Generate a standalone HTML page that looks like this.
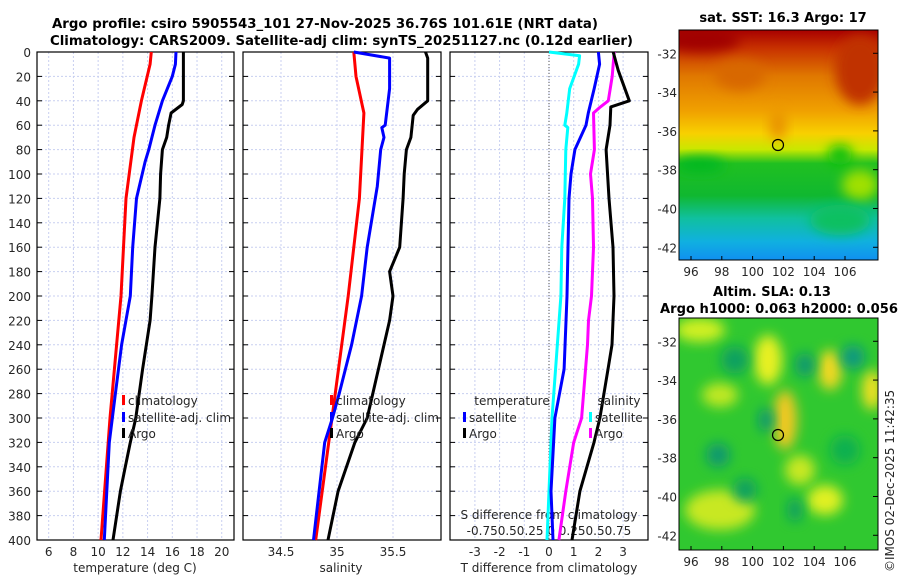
<!DOCTYPE html>
<html><head><meta charset="utf-8">
<style>
body{margin:0;background:#fff;}
svg{display:block;font-family:"DejaVu Sans","Liberation Sans",sans-serif;}
.t{font-size:12px;fill:#262626;}
.b{font-weight:bold;font-size:13px;fill:#000;}
</style></head>
<body>
<svg id="fig" width="900" height="580" viewBox="0 0 900 580">
<defs>
<linearGradient id="sstg" x1="0" y1="0" x2="0" y2="1">
<stop offset="0" stop-color="#a80000"/><stop offset="0.08" stop-color="#c83200"/>
<stop offset="0.2" stop-color="#e07800"/><stop offset="0.35" stop-color="#f0a000"/>
<stop offset="0.45" stop-color="#f8d000"/><stop offset="0.52" stop-color="#c8e800"/>
<stop offset="0.58" stop-color="#20c020"/><stop offset="0.72" stop-color="#10b830"/>
<stop offset="0.82" stop-color="#10c0a0"/><stop offset="0.92" stop-color="#10b0e0"/>
<stop offset="1" stop-color="#1090f0"/></linearGradient>
<filter id="bl" x="-50%" y="-50%" width="200%" height="200%"><feGaussianBlur stdDeviation="6"/></filter>
<clipPath id="c1"><rect x="679" y="30" width="199" height="230"/></clipPath>
<clipPath id="c2"><rect x="679" y="318" width="199" height="232"/></clipPath>
</defs>
<g id="titles">
<text class="b" x="52" y="28" textLength="546" lengthAdjust="spacingAndGlyphs">Argo profile: csiro 5905543_101 27-Nov-2025 36.76S 101.61E (NRT data)</text>
<text class="b" x="50" y="45" textLength="583" lengthAdjust="spacingAndGlyphs">Climatology: CARS2009. Satellite-adj clim: synTS_20251127.nc (0.12d earlier)</text>
</g>
<g id="panels"></g>
<g id="maps">
<text class="b" x="783" y="22" text-anchor="middle">sat. SST: 16.3 Argo: 17</text>
<g clip-path="url(#c1)">
<rect x="679" y="30" width="199" height="230" fill="url(#sstg)"/>
<ellipse cx="700" cy="40" rx="40" ry="12" fill="#a00000" filter="url(#bl)"/>
<ellipse cx="860" cy="70" rx="25" ry="35" fill="#c03000" filter="url(#bl)"/>
<ellipse cx="740" cy="75" rx="25" ry="15" fill="#d86800" filter="url(#bl)"/>
<ellipse cx="778" cy="125" rx="8" ry="15" fill="#e89000" filter="url(#bl)"/>
<ellipse cx="700" cy="165" rx="25" ry="8" fill="#00b820" filter="url(#bl)"/>
<ellipse cx="840" cy="155" rx="12" ry="10" fill="#10c010" filter="url(#bl)"/>
<ellipse cx="860" cy="185" rx="18" ry="15" fill="#a0e000" filter="url(#bl)"/>
<ellipse cx="840" cy="220" rx="30" ry="15" fill="#10c060" filter="url(#bl)"/>
</g>
<rect x="679" y="30" width="199" height="230" fill="none" stroke="#000" stroke-width="1"/>
<circle cx="778" cy="145" r="5.5" fill="none" stroke="#000" stroke-width="1.2"/>
<text class="b" x="772" y="296" text-anchor="middle">Altim. SLA: 0.13</text>
<text class="b" x="660" y="313" textLength="238" lengthAdjust="spacingAndGlyphs">Argo h1000: 0.063 h2000: 0.056</text>
<g clip-path="url(#c2)">
<rect x="679" y="318" width="199" height="232" fill="#30c830"/>
<ellipse cx="700" cy="330" rx="25" ry="12" fill="#d0f020" filter="url(#bl)"/>
<ellipse cx="768" cy="360" rx="14" ry="25" fill="#e8f020" filter="url(#bl)"/>
<ellipse cx="830" cy="370" rx="12" ry="20" fill="#f0d820" filter="url(#bl)"/>
<ellipse cx="872" cy="390" rx="10" ry="20" fill="#f0e020" filter="url(#bl)"/>
<ellipse cx="785" cy="420" rx="12" ry="30" fill="#f0c820" filter="url(#bl)"/>
<ellipse cx="720" cy="395" rx="18" ry="12" fill="#c0e820" filter="url(#bl)"/>
<ellipse cx="825" cy="500" rx="18" ry="15" fill="#e0f020" filter="url(#bl)"/>
<ellipse cx="720" cy="510" rx="35" ry="20" fill="#c8e820" filter="url(#bl)"/>
<ellipse cx="800" cy="470" rx="15" ry="15" fill="#c8e820" filter="url(#bl)"/>
<ellipse cx="735" cy="360" rx="14" ry="14" fill="#10a060" filter="url(#bl)"/>
<ellipse cx="805" cy="365" rx="10" ry="12" fill="#109870" filter="url(#bl)"/>
<ellipse cx="853" cy="357" rx="12" ry="12" fill="#109880" filter="url(#bl)"/>
<ellipse cx="766" cy="420" rx="8" ry="12" fill="#109870" filter="url(#bl)"/>
<ellipse cx="718" cy="455" rx="12" ry="12" fill="#109870" filter="url(#bl)"/>
<ellipse cx="745" cy="490" rx="12" ry="12" fill="#10a060" filter="url(#bl)"/>
<ellipse cx="795" cy="510" rx="8" ry="12" fill="#10a060" filter="url(#bl)"/>
<ellipse cx="845" cy="450" rx="15" ry="15" fill="#10b050" filter="url(#bl)"/>
</g>
<rect x="679" y="318" width="199" height="232" fill="none" stroke="#000" stroke-width="1"/>
<circle cx="778" cy="435" r="5.5" fill="none" stroke="#000" stroke-width="1.2"/>
<text class="t" x="0" y="0" transform="translate(894,572) rotate(-90)">©IMOS 02-Dec-2025 11:42:35</text>
</g>
</svg>
<script>
// ---- data ----
const depthTicks=[0,20,40,60,80,100,120,140,160,180,200,220,240,260,280,300,320,340,360,380,400];
const tempTicks=[6,8,10,12,14,16,18,20];
const salTicks=[34.5,35,35.5];
const salTickLabels=["34.5","35","35.5"];
const diffTicks=[-3,-2,-1,0,1,2,3];
const sdiffLabels="-0.750.50.25 0 0.250.50.75";
const latTicks=[-32,-34,-36,-38,-40,-42];
const lonTicks=[96,98,100,102,104,106];

const tClimDepth=[0,10,40,70,120,200,300,400];
const tClim=[14.3,14.2,13.5,12.9,12.25,11.85,10.96,10.23];
const tSatDepth=[0,10,20,40,60,70,80,90,120,160,200,240,280,320,400];
const tSat=[16.3,16.25,16.0,15.2,14.6,14.35,14.1,13.8,13.1,12.8,12.6,11.9,11.4,10.9,10.5];
const tArgoDepth=[0,40,43,50,60,70,80,100,120,160,200,220,260,300,320,340,360,400];
const tArgo=[16.9,16.9,16.8,15.9,15.7,15.55,15.2,15.05,15.0,14.6,14.35,14.2,13.6,13.05,12.6,12.2,11.8,11.2];

const sClimDepth=[0,20,50,120,200,300,400];
const sClim=[35.15,35.17,35.24,35.2,35.1,34.955,34.81];
const sSatDepth=[0,5,30,60,62,70,80,110,160,200,240,280,300,320,400];
const sSat=[35.15,35.47,35.47,35.43,35.4,35.42,35.39,35.36,35.27,35.22,35.13,35.02,34.96,34.89,34.79];
const sArgoDepth=[0,5,40,47,52,70,80,100,120,160,180,200,220,260,300,320,360,400];
const sArgo=[35.79,35.81,35.81,35.72,35.68,35.66,35.62,35.6,35.59,35.56,35.47,35.5,35.47,35.37,35.27,35.16,35.01,34.92];

const dTSatDepth=[0,10,30,50,60,80,100,120,200,260,300,360,400];
const dTSat=[2.0,2.05,1.83,1.59,1.5,1.05,0.89,0.81,0.73,0.61,0.24,0.08,0.16];
const dTArgoDepth=[0,15,40,45,60,80,120,160,200,240,260,300,320,360,400];
const dTArgo=[2.6,2.8,3.25,2.5,2.47,2.31,2.43,2.59,2.63,2.55,2.39,2.06,1.82,1.25,0.93];
const dSSatDepth=[0,3,10,30,50,60,62,80,120,160,200,300,400];
const dSSat=[0,0.31,0.3,0.21,0.18,0.16,0.19,0.17,0.16,0.13,0.12,0.03,-0.02];
const dSArgoDepth=[0,20,40,45,50,80,100,120,160,200,220,240,300,320,360,400];
const dSArgo=[0.66,0.64,0.6,0.52,0.45,0.46,0.42,0.44,0.45,0.43,0.4,0.39,0.33,0.25,0.17,0.1];

// ---- drawing ----
const NS='http://www.w3.org/2000/svg';
const root=document.getElementById('panels');
function mk(tag,attrs,parent){const e=document.createElementNS(NS,tag);for(const k in attrs)e.setAttribute(k,attrs[k]);(parent||root).appendChild(e);return e;}
const Y0=52,Y1=540;
const yD=d=>Y0+d*(Y1-Y0)/400;
const xT=t=>48.7+(t-6)*12.36;
const xS=s=>337+(s-35)*112;
const xDT=t=>549+t*24.7;
const xDS=s=>549+s*98.8;
const panels=[{x0:37,x1:234},{x0:243,x1:441},{x0:450,x1:648}];

panels.forEach((p,i)=>{
  const g=mk('g',{});
  
  
  const ticksX=i==0?tempTicks.map(xT):i==1?salTicks.map(xS):diffTicks.map(xDT);
  depthTicks.forEach(d=>{
    const l=mk('line',{x1:p.x0,x2:p.x1,y1:yD(d),y2:yD(d),stroke:'#c8cff0','stroke-width':1,'stroke-dasharray':'2,2'},g);
    
    
    mk('line',{x1:p.x0,x2:p.x0+5,y1:yD(d),y2:yD(d),stroke:'#000'},g);
    mk('line',{x1:p.x1,x2:p.x1-5,y1:yD(d),y2:yD(d),stroke:'#000'},g);
  });
  ticksX.forEach(x=>{
    const l=mk('line',{x1:x,x2:x,y1:Y0,y2:Y1,stroke:'#c8cff0','stroke-width':1,'stroke-dasharray':'2,2'},g);
    
    
  });
  const fr=mk('rect',{x:p.x0,y:Y0,width:p.x1-p.x0,height:Y1-Y0,fill:'none',stroke:'#000','stroke-width':1.2},g);
  
  
});
const zl=mk('line',{x1:xDT(0),x2:xDT(0),y1:Y0,y2:Y1,stroke:'#555','stroke-width':1,'stroke-dasharray':'1,2'});



depthTicks.forEach(d=>{
  const t=mk('text',{x:31,y:yD(d)+5,'text-anchor':'end',class:'t'});t.textContent=d;
  
  
});
function xlabels(ticks,fx,labels){ticks.forEach((v,i)=>{const t=mk('text',{x:fx(v),y:556,'text-anchor':'middle',class:'t'});t.textContent=labels?labels[i]:v;
  
  });}
xlabels(tempTicks,xT);xlabels(salTicks,xS,salTickLabels);xlabels(diffTicks,xDT);
function title(x,txt,name,y){const t=mk('text',{x:x,y:y||572,'text-anchor':'middle',class:'t'});t.textContent=txt;
  
  }
title(135,'temperature (deg C)','x-axis-title-temperature');
title(341,'salinity','x-axis-title-salinity');
title(549,'T difference from climatology','x-axis-title-t-diff');
title(549,'S difference from climatology','s-diff-axis-title',519);
title(549,sdiffLabels,'s-diff-tick-labels',535);

function line(ds,vs,fx,color,name){
  const pts=ds.map((d,i)=>fx(vs[i]).toFixed(1)+','+yD(d).toFixed(1)).join(' ');
  const l=mk('polyline',{points:pts,fill:'none',stroke:color,'stroke-width':3,'stroke-linejoin':'round'});
  
  
}
line(tClimDepth,tClim,xT,'#ff0000','temp-climatology-line');
line(tSatDepth,tSat,xT,'#0000ff','temp-satellite-line');
line(tArgoDepth,tArgo,xT,'#000000','temp-argo-line');
line(sClimDepth,sClim,xS,'#ff0000','sal-climatology-line');
line(sSatDepth,sSat,xS,'#0000ff','sal-satellite-line');
line(sArgoDepth,sArgo,xS,'#000000','sal-argo-line');
line(dSSatDepth,dSSat,xDS,'#00ffff','sdiff-satellite-line');
line(dTSatDepth,dTSat,xDT,'#0000ff','tdiff-satellite-line');
line(dSArgoDepth,dSArgo,xDS,'#ff00ff','sdiff-argo-line');
line(dTArgoDepth,dTArgo,xDT,'#000000','tdiff-argo-line');

function legend(x,y,color,txt){
  const g=mk('g',{});
  
  
  mk('rect',{x:x,y:y-10,width:3,height:10,fill:color},g);
  const t=mk('text',{x:x+6,y:y,class:'t'},g);t.textContent=txt;
}
legend(122,405,'#ff0000','climatology');legend(122,422,'#0000ff','satellite-adj. clim');legend(122,438,'#000','Argo');
legend(330,405,'#ff0000','climatology');legend(330,422,'#0000ff','satellite-adj. clim');legend(330,438,'#000','Argo');
title(512,'temperature','legend-title-temperature',405);
legend(463,422,'#0000ff','satellite');legend(463,438,'#000','Argo');
title(619,'salinity','legend-title-salinity',405);
legend(589,422,'#00ffff','satellite');legend(589,438,'#ff00ff','Argo');

const mg=document.getElementById('maps');
function mapAxes(top,bot,latTop){
  latTicks.forEach(v=>{
    const yy=top+(latTop-v)*19.4;
    mk('line',{x1:873,x2:878,y1:yy,y2:yy,stroke:'#000'},mg);
    const t=mk('text',{x:677,y:yy+5,'text-anchor':'end',class:'t'},mg);t.textContent=v;
    
    
  });
  lonTicks.forEach(v=>{
    const x=691+(v-96)*15.4;
    mk('line',{x1:x,x2:x,y1:bot,y2:bot-4,stroke:'#000'},mg);
    const t=mk('text',{x:x,y:bot+16,'text-anchor':'middle',class:'t'},mg);t.textContent=v;
    
    
  });
}
mapAxes(30,260,-30.8);
mapAxes(318,550,-30.8);
</script>
</body></html>
